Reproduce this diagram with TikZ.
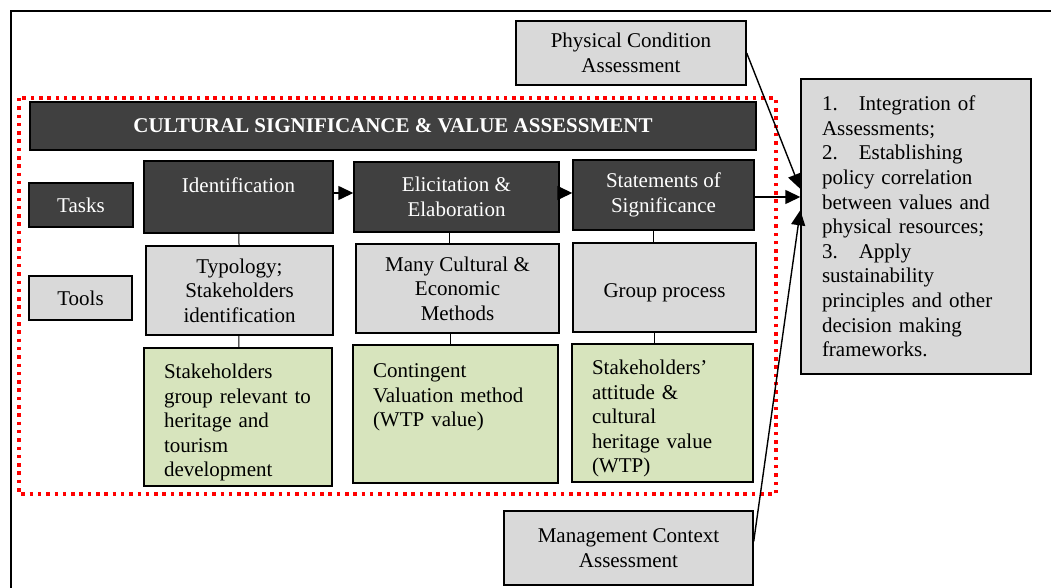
\documentclass[tikz,border=0pt]{standalone}
\usepackage{fontspec}
\setmainfont{Liberation Serif}
\usepackage{tikz}
\usetikzlibrary{arrows.meta,positioning}

\definecolor{taskgray}{HTML}{404040}
\definecolor{toolgray}{HTML}{D9D9D9}
\definecolor{resultgreen}{HTML}{D7E4BD}

\begin{document}
\begin{tikzpicture}
[
	x	= 0.5pt,	% one unit is one pixel of the layout
	y	= -0.5pt,	% y runs downwards, as in the layout
	font	= \fontsize{10.5pt}{12.3pt}\selectfont,
	task/.style	= {draw=black, line width=0.7pt, fill=taskgray, text=white, align=center},
	tool/.style	= {draw=black, line width=0.7pt, fill=toolgray, align=center},
	result/.style	= {draw=black, line width=0.7pt, fill=resultgreen, align=left, inner xsep=10pt, drop=13pt},
	drop/.style	= {inner ysep=1pt, execute at begin node={\rule{0pt}{#1}}},	% sinks the text a little in its box
	link/.style	= {line width=0.5pt},
	flow/.style	= {-{Triangle[length=7.5pt, width=7pt]}, line width=0.7pt},
]

\useasboundingbox (0,0) rectangle (1051,588);

% page frame and the dotted group
\draw [line width=1pt] (11,588) -- (11,11) -- (1051,11);
\draw [red, line width=1.75pt, dash pattern=on 1.75pt off 2.4pt] (19,98) rectangle (776,494);

\node [task, minimum width=363pt, minimum height=24pt, font=\fontsize{10.5pt}{12.3pt}\selectfont\bfseries] (title) at (393,126) {CULTURAL SIGNIFICANCE \& VALUE ASSESSMENT};

\node [task, minimum width=52pt, minimum height=22pt] (tasks) at (81,205) {Tasks};
\node [tool, minimum width=51.5pt, minimum height=22pt] (tools) at (80.5,298) {Tools};

% tasks
\node [task, minimum width=94.5pt, minimum height=36pt] (ident) at (238.5,197) {Identification\\~};
\node [task, minimum width=102.5pt, minimum height=35pt] (elic) at (456.5,197) {Elicitation \&\\Elaboration};
\node [task, minimum width=90.5pt, minimum height=35pt] (stat) at (663.5,195) {Statements of\\Significance};

% tools
\node [tool, drop=12pt, minimum width=93.5pt, minimum height=44.5pt] (typo) at (239.5,290.5) {Typology;\\Stakeholders\\identification};
\node [tool, drop=12pt, minimum width=101.5pt, minimum height=44.5pt] (many) at (457.5,288.5) {Many Cultural \&\\Economic\\Methods};
\node [tool, drop=12pt, minimum width=91.5pt, minimum height=44.5pt] (group) at (664.5,287.5) {Group process};

% results
\node [result, text width=74pt, minimum height=69pt] (stakeholders) at (238,417) {Stakeholders\\group relevant to\\heritage and\\tourism\\development};
\node [result, text width=82.5pt, minimum height=69pt] (contingent) at (455.5,414) {Contingent\\Valuation method\\(WTP value)\\~\\~};
\node [result, text width=70.5pt, minimum height=69pt] (attitude) at (662.5,413) {Stakeholders'\\attitude \&\\cultural\\heritage value\\(WTP)};

% other assessments
\node [tool, drop=11pt, minimum width=115pt, minimum height=32pt] (phys) at (631,53) {Physical Condition\\Assessment};
\node [tool, minimum width=124.5pt, minimum height=37pt] (mgmt) at (628.5,548) {Management Context\\Assessment};
\node [tool, align=left, inner xsep=10.5pt, text width=94pt, minimum height=147.5pt] (integ) at (916,226.5)
	{1.\hspace{10.5pt}Integration of\\Assessments;\\2.\hspace{10.5pt}Establishing\\policy correlation\\between values and\\physical resources;\\3.\hspace{10.5pt}Apply\\sustainability\\principles and other\\decision making\\frameworks.};

% connectors
\draw [link] (ident) -- (typo);
\draw [link] (typo) -- (stakeholders);
\draw [link] ([xshift=-3.75pt]elic.south) -- ([xshift=-3.75pt]elic.south |- many.north);
\draw [link] ([xshift=-3.75pt]many.south) -- ([xshift=-3.75pt]many.south |- contingent.north);
\draw [link] ([xshift=-5.25pt]stat.south) -- ([xshift=-5.25pt]stat.south |- group.north);
\draw [link] ([xshift=-5.25pt]group.south) -- ([xshift=-5.25pt]group.south |- attitude.north);

\draw [flow] ([yshift=2pt]ident.east) -- ([yshift=2pt]ident.east -| elic.west);
\draw [flow] ([yshift=2pt]elic.east) -- ([yshift=2pt]elic.east -| stat.west);
\draw [flow] ([yshift=-1pt]stat.east) -- ([yshift=-1pt]stat.east -| integ.west);
\draw [flow] (phys.east) -- (integ.162);
\draw [flow] (mgmt.3) -- (integ.172);

\end{tikzpicture}
\end{document}
